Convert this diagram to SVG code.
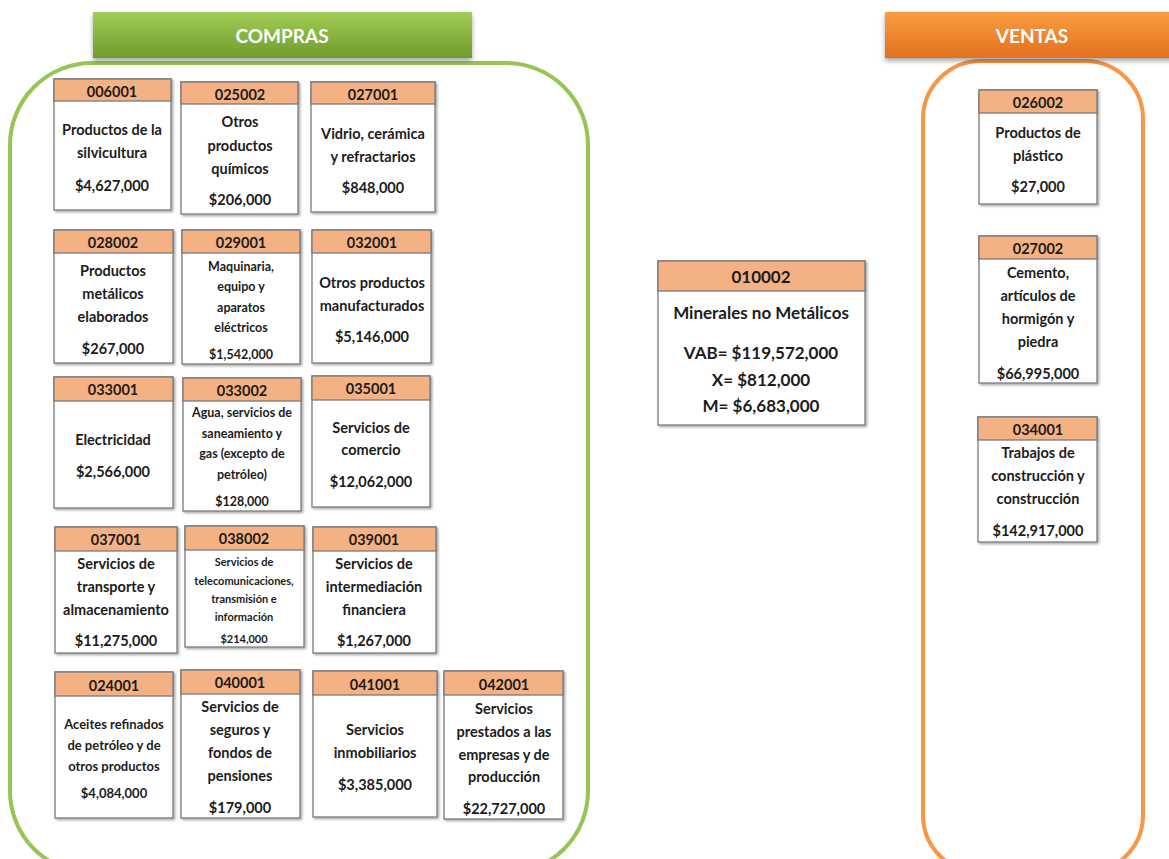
<svg xmlns="http://www.w3.org/2000/svg" width="1169" height="859" viewBox="0 0 1169 859">
<defs>
<linearGradient id="gGreen" x1="0" y1="0" x2="0" y2="1"><stop offset="0" stop-color="#A2CD55"/><stop offset="1" stop-color="#6F9B2E"/></linearGradient>
<linearGradient id="gOrange" x1="0" y1="0" x2="0" y2="1"><stop offset="0" stop-color="#FA9D40"/><stop offset="1" stop-color="#E2711F"/></linearGradient>
<filter id="sh" x="-10%" y="-10%" width="130%" height="130%"><feDropShadow dx="1.5" dy="1.5" stdDeviation="1.2" flood-color="#000" flood-opacity="0.35"/></filter>
<filter id="shH" x="-5%" y="-20%" width="110%" height="160%"><feDropShadow dx="0" dy="3" stdDeviation="2.5" flood-color="#000" flood-opacity="0.35"/></filter>
</defs>
<style>
text{font-family:Lato,"Liberation Sans",sans-serif;font-weight:bold;fill:#1c1c1c;text-anchor:middle;dominant-baseline:central;font-size:14.5px}
.title{fill:#fff;font-size:19px}
.box{fill:#fff;stroke:#7a7a7a;stroke-width:1.3}
.hd{fill:#F4B183;stroke:#7a7a7a;stroke-width:1.3}
.sm{font-size:11px}
.md{font-size:12.5px}
.ab{font-size:13px}
.big{font-size:17px}
</style>
<rect width="1169" height="859" fill="#fff"/>
<g id="compras">
<rect x="10" y="63" width="578" height="810" rx="82" fill="none" stroke="#98C455" stroke-width="4"/>
<rect x="93" y="12" width="379" height="46" fill="url(#gGreen)" filter="url(#shH)"/>
<text class="title" x="282" y="35">COMPRAS</text>
</g>
<g id="ventas">
<rect x="923" y="61" width="220" height="812" rx="58" fill="none" stroke="#F79646" stroke-width="4"/>
<rect x="885" y="12" width="290" height="46" fill="url(#gOrange)" filter="url(#shH)"/>
<text class="title" x="1032" y="35">VENTAS</text>
</g>
<g id="connectors"/>

<g id="n006001" filter="url(#sh)"><rect class="box" x="54" y="79" width="117" height="131"/><rect class="hd" x="54" y="79" width="117" height="22"/></g>
<g id="t006001"><text x="112" y="91">006001</text><text x="112" y="129">Productos de la</text><text x="112" y="152">silvicultura</text><text x="112" y="185">$4,627,000</text></g>

<g id="n025002" filter="url(#sh)"><rect class="box" x="181" y="82" width="117" height="132"/><rect class="hd" x="181" y="82" width="117" height="22"/></g>
<g id="t025002"><text x="240" y="94">025002</text><text x="240" y="121">Otros</text><text x="240" y="145">productos</text><text x="240" y="168">químicos</text><text x="240" y="199">$206,000</text></g>

<g id="n027001" filter="url(#sh)"><rect class="box" x="311" y="82" width="124" height="130"/><rect class="hd" x="311" y="82" width="124" height="22"/></g>
<g id="t027001"><text x="373" y="94">027001</text><text x="373" y="133">Vidrio, cerámica</text><text x="373" y="156">y refractarios</text><text x="373" y="187">$848,000</text></g>

<g id="n028002" filter="url(#sh)"><rect class="box" x="54" y="230" width="119" height="133"/><rect class="hd" x="54" y="230" width="119" height="23"/></g>
<g id="t028002"><text x="113" y="242">028002</text><text x="113" y="270">Productos</text><text x="113" y="293">metálicos</text><text x="113" y="316">elaborados</text><text x="113" y="348">$267,000</text></g>

<g id="n029001" filter="url(#sh)"><rect class="box" x="182" y="230" width="118" height="134"/><rect class="hd" x="182" y="230" width="118" height="23"/></g>
<g id="t029001"><text x="241" y="242">029001</text><text class="md" x="241" y="266">Maquinaria,</text><text class="md" x="241" y="286">equipo y</text><text class="md" x="241" y="307">aparatos</text><text class="md" x="241" y="327">eléctricos</text><text class="md" x="241" y="354">$1,542,000</text></g>

<g id="n032001" filter="url(#sh)"><rect class="box" x="312" y="230" width="119" height="133"/><rect class="hd" x="312" y="230" width="119" height="23"/></g>
<g id="t032001"><text x="372" y="242">032001</text><text x="372" y="282">Otros productos</text><text x="372" y="305">manufacturados</text><text x="372" y="336">$5,146,000</text></g>

<g id="n033001" filter="url(#sh)"><rect class="box" x="54" y="377" width="119" height="131"/><rect class="hd" x="54" y="377" width="119" height="24"/></g>
<g id="t033001"><text x="113" y="389">033001</text><text x="113" y="439">Electricidad</text><text x="113" y="471">$2,566,000</text></g>

<g id="n033002" filter="url(#sh)"><rect class="box" x="183" y="378" width="118" height="133"/><rect class="hd" x="183" y="378" width="118" height="23"/></g>
<g id="t033002"><text x="242" y="390">033002</text><text class="md" x="242" y="412">Agua, servicios de</text><text class="md" x="242" y="433">saneamiento y</text><text class="md" x="242" y="453">gas (excepto de</text><text class="md" x="242" y="474">petróleo)</text><text class="md" x="242" y="501">$128,000</text></g>

<g id="n035001" filter="url(#sh)"><rect class="box" x="312" y="376" width="118" height="131"/><rect class="hd" x="312" y="376" width="118" height="24"/></g>
<g id="t035001"><text x="371" y="388">035001</text><text x="371" y="427">Servicios de</text><text x="371" y="449">comercio</text><text x="371" y="481">$12,062,000</text></g>

<g id="n037001" filter="url(#sh)"><rect class="box" x="55" y="527" width="122" height="126"/><rect class="hd" x="55" y="527" width="122" height="24"/></g>
<g id="t037001"><text x="116" y="539">037001</text><text x="116" y="563">Servicios de</text><text x="116" y="586">transporte y</text><text x="116" y="609">almacenamiento</text><text x="116" y="640">$11,275,000</text></g>

<g id="n038002" filter="url(#sh)"><rect class="box" x="185" y="526" width="119" height="121"/><rect class="hd" x="185" y="526" width="119" height="24"/></g>
<g id="t038002"><text x="244" y="538">038002</text><text class="sm" x="244" y="561">Servicios de</text><text class="sm" x="244" y="580">telecomunicaciones,</text><text class="sm" x="244" y="598">transmisión e</text><text class="sm" x="244" y="616">información</text><text class="sm" x="244" y="638">$214,000</text></g>

<g id="n039001" filter="url(#sh)"><rect class="box" x="313" y="527" width="123" height="126"/><rect class="hd" x="313" y="527" width="123" height="24"/></g>
<g id="t039001"><text x="374" y="539">039001</text><text x="374" y="563">Servicios de</text><text x="374" y="586">intermediación</text><text x="374" y="609">financiera</text><text x="374" y="640">$1,267,000</text></g>

<g id="n024001" filter="url(#sh)"><rect class="box" x="55" y="672" width="118" height="146"/><rect class="hd" x="55" y="672" width="118" height="24"/></g>
<g id="t024001"><text x="114" y="685">024001</text><text class="ab" x="114" y="724">Aceites refinados</text><text class="ab" x="114" y="745">de petróleo y de</text><text class="ab" x="114" y="766">otros productos</text><text class="ab" x="114" y="793">$4,084,000</text></g>

<g id="n040001" filter="url(#sh)"><rect class="box" x="181" y="670" width="119" height="148"/><rect class="hd" x="181" y="670" width="119" height="24"/></g>
<g id="t040001"><text x="240" y="682">040001</text><text x="240" y="706">Servicios de</text><text x="240" y="729">seguros y</text><text x="240" y="752">fondos de</text><text x="240" y="775">pensiones</text><text x="240" y="807">$179,000</text></g>

<g id="n041001" filter="url(#sh)"><rect class="box" x="313" y="671" width="124" height="146"/><rect class="hd" x="313" y="671" width="124" height="24"/></g>
<g id="t041001"><text x="375" y="684">041001</text><text x="375" y="729">Servicios</text><text x="375" y="752">inmobiliarios</text><text x="375" y="784">$3,385,000</text></g>

<g id="n042001" filter="url(#sh)"><rect class="box" x="444" y="671" width="119" height="148"/><rect class="hd" x="444" y="671" width="119" height="24"/></g>
<g id="t042001"><text x="504" y="684">042001</text><text x="504" y="708">Servicios</text><text x="504" y="731">prestados a las</text><text x="504" y="754">empresas y de</text><text x="504" y="776">producción</text><text x="504" y="808">$22,727,000</text></g>

<g id="n010002" filter="url(#sh)"><rect class="box" x="658" y="261" width="207" height="164"/><rect class="hd" x="658" y="261" width="207" height="30"/></g>
<g id="t010002"><text class="big" x="761" y="276">010002</text><text class="big" x="761" y="312">Minerales no Metálicos</text><text class="big" x="761" y="352">VAB= $119,572,000</text><text class="big" x="761" y="379">X= $812,000</text><text class="big" x="761" y="405">M= $6,683,000</text></g>

<g id="n026002" filter="url(#sh)"><rect class="box" x="979" y="90" width="118" height="114"/><rect class="hd" x="979" y="90" width="118" height="23"/></g>
<g id="t026002"><text x="1038" y="102">026002</text><text x="1038" y="132">Productos de</text><text x="1038" y="155">plástico</text><text x="1038" y="186">$27,000</text></g>

<g id="n027002" filter="url(#sh)"><rect class="box" x="979" y="236" width="118" height="147"/><rect class="hd" x="979" y="236" width="118" height="23"/></g>
<g id="t027002"><text x="1038" y="248">027002</text><text x="1038" y="272">Cemento,</text><text x="1038" y="295">artículos de</text><text x="1038" y="318">hormigón y</text><text x="1038" y="341">piedra</text><text x="1038" y="373">$66,995,000</text></g>

<g id="n034001" filter="url(#sh)"><rect class="box" x="978" y="417" width="119" height="125"/><rect class="hd" x="978" y="417" width="119" height="23"/></g>
<g id="t034001"><text x="1038" y="429">034001</text><text x="1038" y="452">Trabajos de</text><text x="1038" y="475">construcción y</text><text x="1038" y="498">construcción</text><text x="1038" y="530">$142,917,000</text></g>
</svg>
